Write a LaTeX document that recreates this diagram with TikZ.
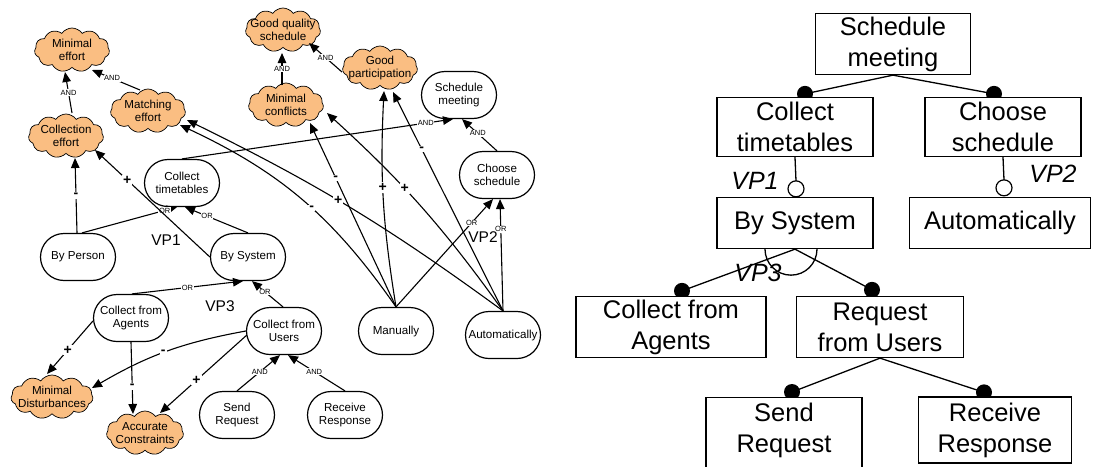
\documentclass[tikz,border=0pt]{standalone}
\usepackage{fontspec}
\setmainfont{Liberation Sans}
\usetikzlibrary{arrows.meta,shapes.misc,shapes.symbols,calc}
\pgfdeclarelayer{background}
\pgfsetlayers{background,main}
\definecolor{goalorange}{RGB}{250,190,130}

\begin{document}
\begin{tikzpicture}[x=1pt,y=-1pt,
  task/.style={rounded rectangle, draw, line width=1.2pt, fill=white,
    minimum width=77pt, minimum height=47pt, inner sep=1pt, align=center,
    font=\fontsize{11.6}{13.5}\selectfont},
  softgoal/.style={cloud, cloud puffs=11, cloud puff arc=110, cloud ignores aspect,
    draw, line width=0.7pt, fill=goalorange, minimum width=75pt, minimum height=44pt,
    inner sep=0pt},
  gtext/.style={align=center, inner sep=0pt, font=\fontsize{11.6}{13.5}\selectfont},
  arr/.style={-{Triangle[length=10pt,width=8.5pt]}, line width=1.1pt},
  lab/.style={fill=white, inner sep=0.6pt, font=\fontsize{7.5}{8}\selectfont},
  sgn/.style={fill=white, inner sep=1pt, font=\bfseries\fontsize{14}{14}\selectfont},
  vpl/.style={inner sep=0pt, font=\fontsize{15.5}{16}\selectfont},
  fbox/.style={rectangle, draw, line width=1.3pt, fill=white, inner sep=0pt,
    align=center, font=\fontsize{25.5}{31}\selectfont},
  ftext/.style={align=center, inner sep=0pt, font=\fontsize{25.5}{31}\selectfont},
  tline/.style={line width=1.3pt},
  fvp/.style={inner sep=0pt, font=\itshape\fontsize{25}{26}\selectfont}]
\useasboundingbox (0,0) rectangle (1098,466);

% ---------- goal model: softgoals ----------
\node[softgoal, label={[gtext]center:Minimal\\effort}] (me) at (72,50) {};
\node[softgoal, label={[gtext]center:Collection\\effort}] (ce) at (66,136) {};
\node[softgoal, label={[gtext]center:Matching\\effort}] (mef) at (148,111) {};
\node[softgoal, label={[gtext]center:Good quality\\schedule}] (gq) at (283,30) {};
\node[softgoal, label={[gtext]center:Good\\participation}] (gp) at (380,68) {};
\node[softgoal, label={[gtext]center:Minimal\\conflicts}] (mc) at (286,105) {};
\node[softgoal, minimum width=82pt, label={[gtext]center:Minimal\\Disturbances}] (md) at (52,397) {};
\node[softgoal, minimum width=77pt, label={[gtext]center:Accurate\\Constraints}] (ac) at (145,433) {};

% ---------- goal model: goals and tasks ----------
\node[task] (sm) at (459,95) {Schedule\\meeting};
\node[task] (cs) at (497,175) {Choose\\schedule};
\node[task] (ct) at (182,183) {Collect\\timetables};
\node[task] (bp) at (78,257) {By Person};
\node[task] (bs) at (248,257) {By System};
\node[task] (ca) at (131,318) {Collect from\\Agents};
\node[task] (cu) at (284,331) {Collect from\\Users};
\node[task] (sr) at (237,415) {Send\\Request};
\node[task] (rr) at (345,415) {Receive\\Response};
\node[task] (man) at (396,331) {Manually};
\node[task] (aut) at (503,335) {Automatically};

% AND decompositions among softgoals
\draw[arr] ($(ce)+(6,-23)$) -- node[lab,pos=0.5]{AND} ($(me)+(-7,22)$);
\draw[arr] ($(mef)+(-8,-21)$) -- node[lab,pos=0.58]{AND} ($(me)+(20,20)$);
\draw[arr] ($(mc)+(-4,-20)$) -- node[lab,pos=0.5]{AND} ($(gq)+(-1,23)$);
\draw[arr] ($(gp)+(-38,4)$) -- node[lab,pos=0.5]{AND} ($(gq)+(26,13)$);

% AND / OR decompositions of goals
\draw[arr] (cs.north) -- node[lab,pos=0.55]{AND} ($(sm.south)+(3,0)$);
\draw[arr] (ct.north) -- node[lab,pos=0.9]{AND} ($(sm.south)+(-6,0)$);
\draw[arr] ($(bp.north)+(4,0)$) -- node[lab,pos=0.87]{OR} ($(ct.south)+(-5,0)$);
\draw[arr] (bs.north) -- node[lab,pos=0.65]{OR} ($(ct.south)+(3,0)$);
\draw[arr] ($(ca.north)+(1,0)$) -- node[lab,pos=0.5]{OR} ($(bs.south)+(-5,0)$);
\draw[arr] ($(cu.north)+(-1,0)$) -- node[lab,pos=0.58]{OR} ($(bs.south)+(4,0)$);
\draw[arr] (sr.north) -- node[lab,pos=0.53]{AND} ($(cu.south)+(-4,0)$);
\draw[arr] (rr.north) -- node[lab,pos=0.54]{AND} ($(cu.south)+(4,0)$);
\draw[arr] (man.north) -- node[lab,pos=0.78]{OR} ($(cs.south)+(-4,0)$);
\draw[arr] (aut.north) -- node[lab,pos=0.73]{OR} ($(cs.south)+(3,0)$);

% contributions to softgoals
\draw[arr] ($(bp.north)+(-1,0)$) -- node[sgn,pos=0.5]{-} ($(ce)+(9,22)$);
\draw[arr] (bs.west) -- node[sgn,pos=0.72]{+} ($(ce)+(29,14)$);
\draw[arr] ($(ca.west)+(0,3)$) -- node[sgn,pos=0.55]{+} ($(md)+(-5,-23)$);
\draw[arr] (ca.south) -- node[sgn,pos=0.62]{-} ($(ac)+(-12,-19)$);
\draw[arr] (cu.west) to[bend right=10] node[sgn,pos=0.52]{-} ($(md)+(40,-9)$);
\draw[arr] ($(cu.west)+(1,4)$) -- node[sgn,pos=0.58]{+} ($(ac)+(15,-20)$);
\draw[arr] (man.north) -- node[sgn,pos=0.7]{-} ($(mc)+(24,18)$);
\draw[arr] (man.north) to[bend left=6] node[sgn,pos=0.56]{+} ($(gp)+(4,23)$);
\draw[arr] (man.north) to[bend right=15] node[sgn,pos=0.45]{-} ($(mef)+(32,14)$);
\draw[arr] (aut.north) to[bend right=6] node[sgn,pos=0.6]{+} ($(mc)+(41,8)$);
\draw[arr] (aut.north) -- node[sgn,pos=0.74]{-} ($(gp)+(13,24)$);
\draw[arr] (aut.north) to[bend right=5] node[sgn,pos=0.54]{+} ($(mef)+(39,9)$);

% variation points
\node[vpl] (vp1) at (166,240) {VP1};
\node[vpl] (vp2) at (483,237) {VP2};
\node[vpl] (vp3) at (220,306) {VP3};

% ---------- feature tree ----------
\node[fbox, minimum width=155pt, minimum height=61pt] (Rsm) at (893,44) {Schedule\\meeting};
\node[fbox, minimum width=156pt, minimum height=59pt] (Rct) at (795,127) {Collect\\timetables};
\node[fbox, minimum width=156pt, minimum height=59pt] (Rcs) at (1003,127) {Choose\\schedule};
\node[fbox, minimum width=156pt, minimum height=51pt] (Rbs) at (795,223) {By System};
\node[fbox, minimum width=181pt, minimum height=51pt] (Rau) at (1000,223) {Automatically};
\node[fbox, minimum width=190pt, minimum height=61pt] (Rca) at (671,327) {Collect from\\Agents};
\node[fbox, minimum width=167pt, minimum height=61pt] (Rru) at (880,327) {Request\\from Users};
\node[fbox, minimum width=156pt, minimum height=80pt, anchor=north,
      label={[ftext,yshift=7pt]center:Send\\Request}] (Rsr) at (784,397) {};
\node[fbox, minimum width=153pt, minimum height=66pt] (Rrr) at (995,430) {Receive\\Response};

% mandatory features: lines ending in filled dots
\coordinate (d1) at ($(Rct.north)+(10,-3)$);
\coordinate (d2) at ($(Rcs.north)+(-9,-3)$);
\coordinate (d3) at ($(Rca.north)+(11,-5)$);
\coordinate (d4) at ($(Rru.north)+(-8,-6)$);
\coordinate (d5) at ($(Rsr.north)+(8,-5)$);
\coordinate (d6) at ($(Rrr.north)+(-11,-4)$);
\begin{pgfonlayer}{background}
  \draw[tline] (Rsm.south) -- (d1);
  \draw[tline] (Rsm.south) -- (d2);
  \draw[tline] (Rbs.south) -- (d3);
  \draw[tline] (Rbs.south) -- (d4);
  \draw[tline] (Rru.south) -- (d5);
  \draw[tline] (Rru.south) -- (d6);
  \foreach \d in {d1,d2,d3,d4,d5,d6} \fill (\d) circle[radius=8pt];
\end{pgfonlayer}

% optional features: lines ending in hollow circles
\coordinate (o1) at ($(Rbs.north)+(1,-8)$);
\coordinate (o2) at ($(Rau.north)+(4,-9)$);
\draw[tline] (Rct.south) -- ($(o1)+(0,-8)$);
\draw[tline] (Rcs.south) -- ($(o2)+(0,-8)$);
\draw[line width=1.2pt, fill=white] (o1) circle[radius=8pt];
\draw[line width=1.2pt, fill=white] (o2) circle[radius=8pt];

% alternative group arc
\draw[tline] ($(Rbs.south)+(-30,0)$) arc[start angle=180, end angle=360, radius=26pt];

\node[fvp] (rvp1) at (755,181) {VP1};
\node[fvp] (rvp2) at (1053,174) {VP2};
\node[fvp] (rvp3) at (758,273) {VP3};
\end{tikzpicture}
\end{document}
